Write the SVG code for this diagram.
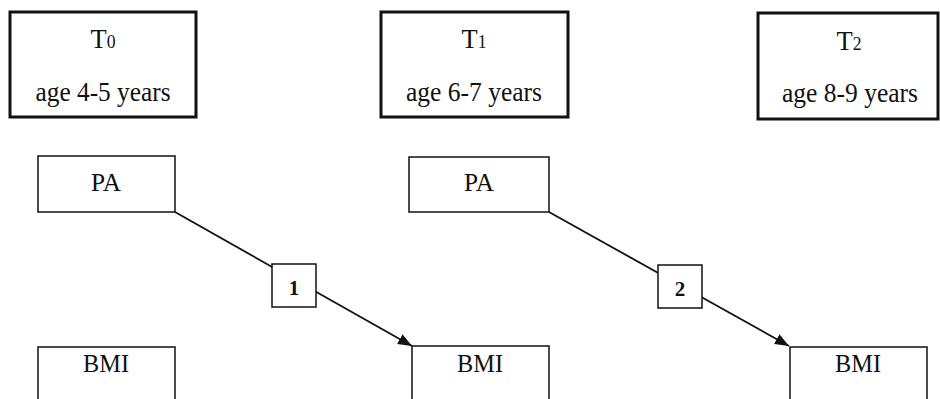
<svg xmlns="http://www.w3.org/2000/svg" width="940" height="399" viewBox="0 0 940 399">
<style>
text{font-family:"Liberation Serif","Times New Roman",serif;fill:#111;text-anchor:middle}
.t{font-size:28px}
.h{font-size:27px}
.sub{font-size:18px}
.v{font-size:25px}
.n{font-size:21px;font-weight:bold}
.tbox{fill:#fff;stroke:#111;stroke-width:3}
.box{fill:#fff;stroke:#111;stroke-width:1.5}
.ln{stroke:#111;stroke-width:1.8;fill:none}
</style>
<defs>
<marker id="ah" viewBox="0 0 14 11" refX="14" refY="5.5" markerWidth="14" markerHeight="11" markerUnits="userSpaceOnUse" orient="auto">
<path d="M0,0 L14,5.5 L0,11 z" fill="#111"/>
</marker>
</defs>
<rect width="940" height="399" fill="#fff"/>
<g id="connectors">
<line class="ln" x1="175" y1="212" x2="412" y2="346" marker-end="url(#ah)"/>
<line class="ln" x1="549" y1="212" x2="789" y2="346" marker-end="url(#ah)"/>
</g>
<g id="T0">
<rect class="tbox" x="10" y="12" width="186" height="105"/>
<text class="h" x="103" y="48" textLength="25" lengthAdjust="spacingAndGlyphs">T<tspan class="sub">0</tspan></text>
<text class="t" x="103" y="101" textLength="135" lengthAdjust="spacingAndGlyphs">age 4-5 years</text>
</g>
<g id="T1">
<rect class="tbox" x="381" y="12" width="187" height="105"/>
<text class="h" x="474" y="48" textLength="25" lengthAdjust="spacingAndGlyphs">T<tspan class="sub">1</tspan></text>
<text class="t" x="474" y="101" textLength="136" lengthAdjust="spacingAndGlyphs">age 6-7 years</text>
</g>
<g id="T2">
<rect class="tbox" x="758" y="13" width="180" height="106"/>
<text class="h" x="849" y="50" textLength="25" lengthAdjust="spacingAndGlyphs">T<tspan class="sub">2</tspan></text>
<text class="t" x="850" y="102" textLength="136" lengthAdjust="spacingAndGlyphs">age 8-9 years</text>
</g>
<g id="PA0">
<rect class="box" x="38" y="156" width="137" height="56"/>
<text class="v" x="106" y="191" textLength="30" lengthAdjust="spacingAndGlyphs">PA</text>
</g>
<g id="PA1">
<rect class="box" x="409" y="157" width="140" height="55"/>
<text class="v" x="479" y="191" textLength="30" lengthAdjust="spacingAndGlyphs">PA</text>
</g>
<g id="BMI0">
<rect class="box" x="38" y="347" width="137" height="70"/>
<text class="v" x="106" y="372" textLength="46" lengthAdjust="spacingAndGlyphs">BMI</text>
</g>
<g id="BMI1">
<rect class="box" x="412" y="346" width="137" height="70"/>
<text class="v" x="480" y="372" textLength="46" lengthAdjust="spacingAndGlyphs">BMI</text>
</g>
<g id="BMI2">
<rect class="box" x="790" y="347" width="137" height="70"/>
<text class="v" x="858" y="372" textLength="46" lengthAdjust="spacingAndGlyphs">BMI</text>
</g>
<g id="label1">
<rect class="box" x="272" y="264" width="44" height="43"/>
<text class="n" x="294" y="295">1</text>
</g>
<g id="label2">
<rect class="box" x="658" y="265" width="44" height="43"/>
<text class="n" x="680" y="296">2</text>
</g>
</svg>
